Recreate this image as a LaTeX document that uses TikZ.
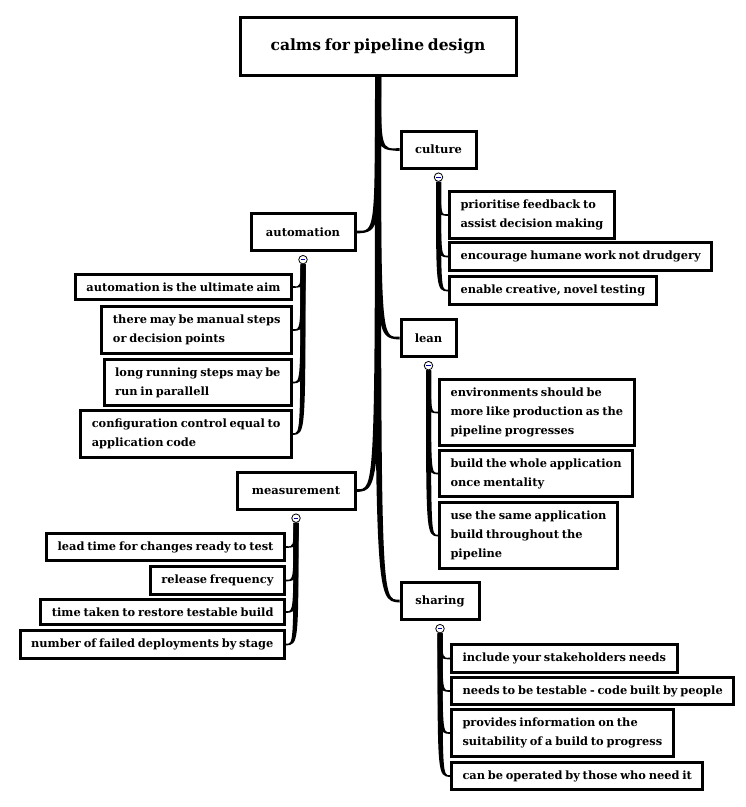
\documentclass[tikz,border=0pt]{standalone}
\usepackage{fontspec}
\setmainfont{DejaVu Serif}[WordSpace=0.7]
\usepackage{tikz}
\usetikzlibrary{positioning, backgrounds}
\tikzset{>=stealth}
\tikzset{
  topic/.style={draw, line width=3pt, fill=white, font=\bfseries\fontsize{15.5}{19}\selectfont, minimum width=276pt, minimum height=58pt},
  branch/.style={draw, line width=3pt, fill=white, font=\bfseries\fontsize{11.5}{13}\selectfont, minimum height=37pt},
  leaf/.style={draw, line width=3pt, fill=white, font=\bfseries\fontsize{11.4}{19}\selectfont, align=left, inner xsep=11pt, inner ysep=8pt},
  toggle/.style={circle, draw, fill=white, line width=0.8pt, inner sep=0pt, minimum size=8.5pt,
    path picture={\draw[blue!60!black, line width=0.9pt] ([xshift=1.8pt]path picture bounding box.west) -- ([xshift=-1.8pt]path picture bounding box.east);}}
}

\begin{document}
\begin{tikzpicture}[x=1pt, y=-1pt]
\useasboundingbox (0,0) rectangle (746,807);

\node[topic] (calms) at (378,46) {calms for pipeline design};

\node[branch, minimum width=75pt] (culture) at (438.5,149.5) {culture};
\node[branch, minimum width=104pt] (automation) at (303,232) {automation};
\node[branch, minimum width=55pt] (lean) at (428.5,338) {lean};
\node[branch, minimum width=118pt] (measurement) at (296,490.5) {measurement};
\node[branch, minimum width=78pt] (sharing) at (440,601) {sharing};

\node[toggle, below=3pt of culture] (culture-t) {};
\node[toggle, below=3pt of automation] (automation-t) {};
\node[toggle, below=3pt of lean] (lean-t) {};
\node[toggle, below=3pt of measurement] (measurement-t) {};
\node[toggle, below=3pt of sharing] (sharing-t) {};

% culture
\node[leaf, anchor=west] (feedback) at (448,215) {prioritise feedback to\\assist decision making};
\node[leaf, anchor=west] (humane) at (448,256.5) {encourage humane work not drudgery};
\node[leaf, anchor=west] (creative) at (448,290.5) {enable creative, novel testing};

% automation
\node[leaf, anchor=east] (aim) at (293,287) {automation is the ultimate aim};
\node[leaf, anchor=east] (manual) at (293,330) {there may be manual steps\\or decision points};
\node[leaf, anchor=east] (parallel) at (293,382.5) {long running steps may be\\run in parallell};
\node[leaf, anchor=east] (config) at (293,434) {configuration control equal to\\application code};

% lean
\node[leaf, anchor=west] (envs) at (438,412.5) {environments should be\\more like production as the\\pipeline progresses};
\node[leaf, anchor=west] (once) at (438,473.5) {build the whole application\\once mentality};
\node[leaf, anchor=west] (same) at (438,535.5) {use the same application\\build throughout the\\pipeline};

% measurement
\node[leaf, anchor=east] (leadtime) at (286,547) {lead time for changes ready to test};
\node[leaf, anchor=east] (frequency) at (286,580.5) {release frequency};
\node[leaf, anchor=east] (restore) at (286,612) {time taken to restore testable build};
\node[leaf, anchor=east] (failed) at (286,644.5) {number of failed deployments by stage};

% sharing
\node[leaf, anchor=west] (stakeholders) at (450,658.5) {include your stakeholders needs};
\node[leaf, anchor=west] (testable) at (450,691) {needs to be testable - code built by people};
\node[leaf, anchor=west] (information) at (450,733) {provides information on the\\suitability of a build to progress};
\node[leaf, anchor=west] (operated) at (450,776) {can be operated by those who need it};

\begin{scope}[on background layer]
% main branches
\fill ([xshift=-3pt]calms.south) .. controls ([xshift=-3pt]calms.south |- culture.west) .. ([yshift=-1.5pt]culture.west) -- ([yshift=1.5pt]culture.west) .. controls ([xshift=3pt]calms.south |- culture.west) .. ([xshift=3pt]calms.south) -- cycle;
\fill ([xshift=3pt]calms.south) .. controls ([xshift=3pt]calms.south |- automation.east) .. ([yshift=-1.5pt]automation.east) -- ([yshift=1.5pt]automation.east) .. controls ([xshift=-3pt]calms.south |- automation.east) .. ([xshift=-3pt]calms.south) -- cycle;
\fill ([xshift=-3pt]calms.south) .. controls ([xshift=-3pt]calms.south |- lean.west) .. ([yshift=-1.5pt]lean.west) -- ([yshift=1.5pt]lean.west) .. controls ([xshift=3pt]calms.south |- lean.west) .. ([xshift=3pt]calms.south) -- cycle;
\fill ([xshift=3pt]calms.south) .. controls ([xshift=3pt]calms.south |- measurement.east) .. ([yshift=-1.5pt]measurement.east) -- ([yshift=1.5pt]measurement.east) .. controls ([xshift=-3pt]calms.south |- measurement.east) .. ([xshift=-3pt]calms.south) -- cycle;
\fill ([xshift=-3pt]calms.south) .. controls ([xshift=-3pt]calms.south |- sharing.west) .. ([yshift=-1.5pt]sharing.west) -- ([yshift=1.5pt]sharing.west) .. controls ([xshift=3pt]calms.south |- sharing.west) .. ([xshift=3pt]calms.south) -- cycle;

% culture leaves
\fill ([xshift=-2.5pt]culture-t.south) .. controls ([xshift=-2.5pt]culture-t.south |- feedback.west) .. ([yshift=-1pt]feedback.west) -- ([yshift=1pt]feedback.west) .. controls ([xshift=2.5pt]culture-t.south |- feedback.west) .. ([xshift=2.5pt]culture-t.south) -- cycle;
\fill ([xshift=-2.5pt]culture-t.south) .. controls ([xshift=-2.5pt]culture-t.south |- humane.west) .. ([yshift=-1pt]humane.west) -- ([yshift=1pt]humane.west) .. controls ([xshift=2.5pt]culture-t.south |- humane.west) .. ([xshift=2.5pt]culture-t.south) -- cycle;
\fill ([xshift=-2.5pt]culture-t.south) .. controls ([xshift=-2.5pt]culture-t.south |- creative.west) .. ([yshift=-1pt]creative.west) -- ([yshift=1pt]creative.west) .. controls ([xshift=2.5pt]culture-t.south |- creative.west) .. ([xshift=2.5pt]culture-t.south) -- cycle;

% automation leaves
\fill ([xshift=2.5pt]automation-t.south) .. controls ([xshift=2.5pt]automation-t.south |- aim.east) .. ([yshift=-1pt]aim.east) -- ([yshift=1pt]aim.east) .. controls ([xshift=-2.5pt]automation-t.south |- aim.east) .. ([xshift=-2.5pt]automation-t.south) -- cycle;
\fill ([xshift=2.5pt]automation-t.south) .. controls ([xshift=2.5pt]automation-t.south |- manual.east) .. ([yshift=-1pt]manual.east) -- ([yshift=1pt]manual.east) .. controls ([xshift=-2.5pt]automation-t.south |- manual.east) .. ([xshift=-2.5pt]automation-t.south) -- cycle;
\fill ([xshift=2.5pt]automation-t.south) .. controls ([xshift=2.5pt]automation-t.south |- parallel.east) .. ([yshift=-1pt]parallel.east) -- ([yshift=1pt]parallel.east) .. controls ([xshift=-2.5pt]automation-t.south |- parallel.east) .. ([xshift=-2.5pt]automation-t.south) -- cycle;
\fill ([xshift=2.5pt]automation-t.south) .. controls ([xshift=2.5pt]automation-t.south |- config.east) .. ([yshift=-1pt]config.east) -- ([yshift=1pt]config.east) .. controls ([xshift=-2.5pt]automation-t.south |- config.east) .. ([xshift=-2.5pt]automation-t.south) -- cycle;

% lean leaves
\fill ([xshift=-2.5pt]lean-t.south) .. controls ([xshift=-2.5pt]lean-t.south |- envs.west) .. ([yshift=-1pt]envs.west) -- ([yshift=1pt]envs.west) .. controls ([xshift=2.5pt]lean-t.south |- envs.west) .. ([xshift=2.5pt]lean-t.south) -- cycle;
\fill ([xshift=-2.5pt]lean-t.south) .. controls ([xshift=-2.5pt]lean-t.south |- once.west) .. ([yshift=-1pt]once.west) -- ([yshift=1pt]once.west) .. controls ([xshift=2.5pt]lean-t.south |- once.west) .. ([xshift=2.5pt]lean-t.south) -- cycle;
\fill ([xshift=-2.5pt]lean-t.south) .. controls ([xshift=-2.5pt]lean-t.south |- same.west) .. ([yshift=-1pt]same.west) -- ([yshift=1pt]same.west) .. controls ([xshift=2.5pt]lean-t.south |- same.west) .. ([xshift=2.5pt]lean-t.south) -- cycle;

% measurement leaves
\fill ([xshift=2.5pt]measurement-t.south) .. controls ([xshift=2.5pt]measurement-t.south |- leadtime.east) .. ([yshift=-1pt]leadtime.east) -- ([yshift=1pt]leadtime.east) .. controls ([xshift=-2.5pt]measurement-t.south |- leadtime.east) .. ([xshift=-2.5pt]measurement-t.south) -- cycle;
\fill ([xshift=2.5pt]measurement-t.south) .. controls ([xshift=2.5pt]measurement-t.south |- frequency.east) .. ([yshift=-1pt]frequency.east) -- ([yshift=1pt]frequency.east) .. controls ([xshift=-2.5pt]measurement-t.south |- frequency.east) .. ([xshift=-2.5pt]measurement-t.south) -- cycle;
\fill ([xshift=2.5pt]measurement-t.south) .. controls ([xshift=2.5pt]measurement-t.south |- restore.east) .. ([yshift=-1pt]restore.east) -- ([yshift=1pt]restore.east) .. controls ([xshift=-2.5pt]measurement-t.south |- restore.east) .. ([xshift=-2.5pt]measurement-t.south) -- cycle;
\fill ([xshift=2.5pt]measurement-t.south) .. controls ([xshift=2.5pt]measurement-t.south |- failed.east) .. ([yshift=-1pt]failed.east) -- ([yshift=1pt]failed.east) .. controls ([xshift=-2.5pt]measurement-t.south |- failed.east) .. ([xshift=-2.5pt]measurement-t.south) -- cycle;

% sharing leaves
\fill ([xshift=-2.5pt]sharing-t.south) .. controls ([xshift=-2.5pt]sharing-t.south |- stakeholders.west) .. ([yshift=-1pt]stakeholders.west) -- ([yshift=1pt]stakeholders.west) .. controls ([xshift=2.5pt]sharing-t.south |- stakeholders.west) .. ([xshift=2.5pt]sharing-t.south) -- cycle;
\fill ([xshift=-2.5pt]sharing-t.south) .. controls ([xshift=-2.5pt]sharing-t.south |- testable.west) .. ([yshift=-1pt]testable.west) -- ([yshift=1pt]testable.west) .. controls ([xshift=2.5pt]sharing-t.south |- testable.west) .. ([xshift=2.5pt]sharing-t.south) -- cycle;
\fill ([xshift=-2.5pt]sharing-t.south) .. controls ([xshift=-2.5pt]sharing-t.south |- information.west) .. ([yshift=-1pt]information.west) -- ([yshift=1pt]information.west) .. controls ([xshift=2.5pt]sharing-t.south |- information.west) .. ([xshift=2.5pt]sharing-t.south) -- cycle;
\fill ([xshift=-2.5pt]sharing-t.south) .. controls ([xshift=-2.5pt]sharing-t.south |- operated.west) .. ([yshift=-1pt]operated.west) -- ([yshift=1pt]operated.west) .. controls ([xshift=2.5pt]sharing-t.south |- operated.west) .. ([xshift=2.5pt]sharing-t.south) -- cycle;
\end{scope}

\end{tikzpicture}
\end{document}
